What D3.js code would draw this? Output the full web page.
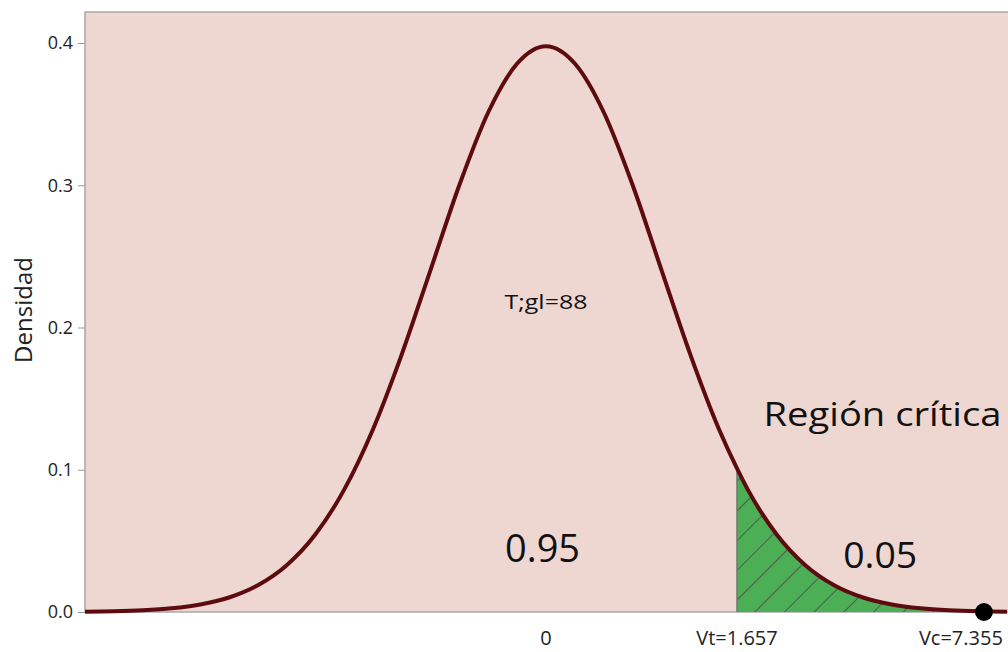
<!DOCTYPE html>
<html>
<head>
<meta charset="utf-8">
<script src="https://cdn.jsdelivr.net/npm/d3@7"></script>
<style>
    body { margin: 0; background: #fff; }
    svg { display: block; font-family: "Open Sans", "DejaVu Sans", sans-serif; }
</style>
</head>
<body>
<svg id="chart" width="1008" height="652"></svg>
<script>
// density of T with 88 degrees of freedom
const tValues = [-4, -3.75, -3.5, -3.25, -3, -2.75, -2.5, -2.25, -2, -1.75, -1.5, -1.25, -1, -0.75, -0.5, -0.25,
    0, 0.25, 0.5, 0.75, 1, 1.25, 1.5, 1.657, 1.75, 2, 2.25, 2.5, 2.75, 3, 3.25, 3.5, 3.75, 4];
const densValues = [0.0002, 0.0005, 0.0012, 0.0026, 0.0053, 0.0102, 0.0188, 0.0329, 0.0547, 0.0862, 0.1287, 0.1815, 0.2409, 0.3005, 0.3515, 0.3856,
    0.3978, 0.3856, 0.3515, 0.3005, 0.2409, 0.1815, 0.1287, 0.1010, 0.0862, 0.0547, 0.0329, 0.0188, 0.0102, 0.0053, 0.0026, 0.0012, 0.0005, 0.0002];

const yTicks = [0.0, 0.1, 0.2, 0.3, 0.4];
const vt = 1.657;          // critical value
const vcPos = 3.8;         // where the Vc marker is drawn
const vcLabel = 'Vc=7.355';
const probInside = '0.95';
const probTail = '0.05';

const svg = d3.select('#chart');
const margin = { left: 85, top: 12 };
const width = 1008;

const x = d3.scaleLinear().domain([-4, 4]).range([margin.left, 1007]);
const y = d3.scaleLinear().domain([0, 0.4]).range([612, 43]);

const points = tValues.map((t, i) => ({ t: t, d: densValues[i] }));

// hatch pattern for the critical region
const defs = svg.append('defs');
const pat = defs.append('pattern')
    .attr('id', 'hatch')
    .attr('patternUnits', 'userSpaceOnUse')
    .attr('width', 21)
    .attr('height', 21)
    .attr('patternTransform', 'rotate(45)');
pat.append('rect').attr('width', 21).attr('height', 21).attr('fill', '#4caf55');
pat.append('line')
    .attr('x1', 0).attr('y1', 0).attr('x2', 0).attr('y2', 21)
    .attr('stroke', '#505050').attr('stroke-width', 1.8);

// plot background
svg.append('rect')
    .attr('x', margin.left)
    .attr('y', margin.top)
    .attr('width', width - margin.left + 2)
    .attr('height', y(0) - margin.top)
    .attr('fill', '#eed6d1')
    .attr('stroke', '#a8a8a8')
    .attr('stroke-width', 1.5);

// shaded tail
const tail = points.filter(p => p.t >= vt);
const area = d3.area()
    .x(p => x(p.t))
    .y0(y(0))
    .y1(p => y(p.d))
    .curve(d3.curveMonotoneX);
svg.append('path')
    .datum(tail)
    .attr('d', area)
    .attr('fill', 'url(#hatch)');
svg.append('line')
    .attr('x1', x(vt)).attr('x2', x(vt))
    .attr('y1', y(0)).attr('y2', y(tail[0].d))
    .attr('stroke', '#777')
    .attr('stroke-width', 1.5);

// density curve
const line = d3.line()
    .x(p => x(p.t))
    .y(p => y(p.d))
    .curve(d3.curveMonotoneX);
svg.append('path')
    .datum(points)
    .attr('d', line)
    .attr('fill', 'none')
    .attr('stroke', '#5e0b10')
    .attr('stroke-width', 4);

// y axis
const yAxis = svg.append('g')
    .attr('transform', `translate(${margin.left},0)`)
    .call(d3.axisLeft(y).tickValues(yTicks).tickFormat(d3.format('.1f')).tickSize(7).tickPadding(5));
yAxis.select('.domain').remove();
yAxis.selectAll('line').attr('stroke', '#999');
yAxis.selectAll('text').attr('font-size', 18).attr('fill', '#222').attr('font-family', '"Open Sans", sans-serif');

// x axis labels
const xLabels = [{ t: 0, label: '0' }, { t: vt, label: 'Vt=' + vt }, { t: 3.6, label: vcLabel }];
svg.append('g')
    .selectAll('text')
    .data(xLabels)
    .enter()
    .append('text')
    .attr('x', d => x(d.t))
    .attr('y', 645)
    .attr('text-anchor', 'middle')
    .attr('font-size', 20)
    .attr('fill', '#222')
    .text(d => d.label);

// Vc marker
svg.append('circle')
    .attr('cx', x(vcPos))
    .attr('cy', y(0))
    .attr('r', 9)
    .attr('fill', '#000');

// axis title
svg.append('text')
    .attr('transform', `translate(32,310) rotate(-90)`)
    .attr('text-anchor', 'middle')
    .attr('font-size', 24)
    .attr('fill', '#222')
    .text('Densidad');

// annotations, stretched to the widths of the original
function note(t, yPos, size, len, txt) {
    svg.append('text')
        .attr('x', x(t) - len / 2).attr('y', yPos)
        .attr('font-size', size)
        .attr('fill', '#111')
        .attr('textLength', len)
        .attr('lengthAdjust', 'spacingAndGlyphs')
        .text(txt);
}

note(0, 309, 20, 83, 'T;gl=88');
note(-0.03, 562, 38, 75, probInside);
note(2.9, 568, 36, 74, probTail);
note(2.92, 426, 32, 238, 'Región crítica');
</script>
</body>
</html>
